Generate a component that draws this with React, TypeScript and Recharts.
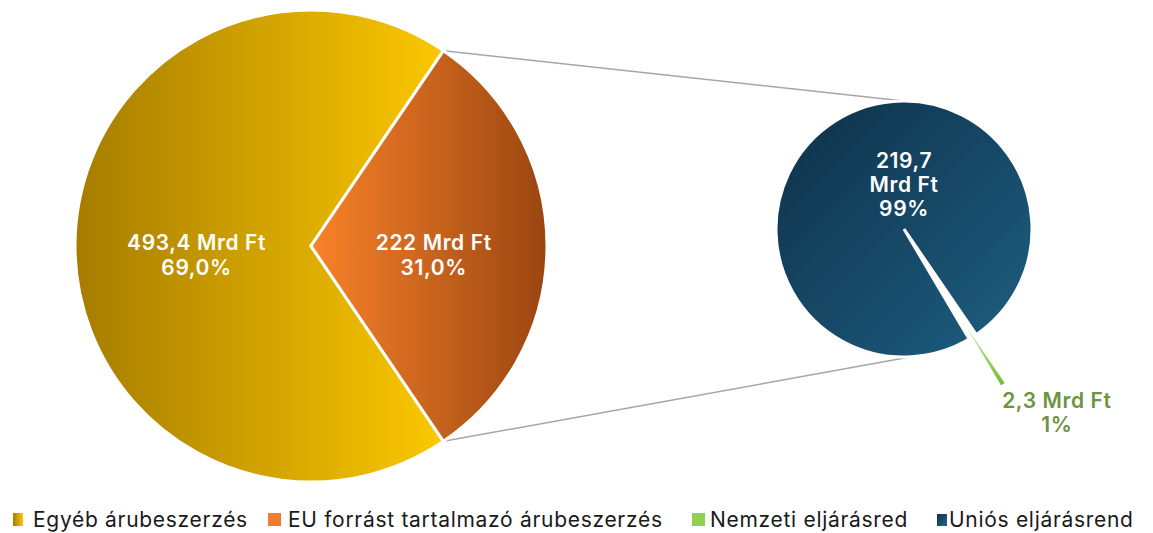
import React from 'react';
import { PieChart, Pie, Cell, Legend, Customized } from 'recharts';

document.body.style.margin = '0';

// fő kör: teljes árubeszerzés
const mainNames = ['Egyéb árubeszerzés', 'EU forrást tartalmazó árubeszerzés'];
const mainValues = [493.4, 222];
const mainAmounts = ['493,4 Mrd Ft', '222 Mrd Ft'];
const mainPercents = ['69,0%', '31,0%'];

// kis kör: az EU forrást tartalmazó rész bontása
const subNames = ['Uniós eljárásrend', 'Nemzeti eljárásred'];
const subValues = [219.7, 2.3];
const subAmounts = [['219,7', 'Mrd Ft'], ['2,3 Mrd Ft']];
const subPercents = ['99%', '1%'];

const legendNames = ['Egyéb árubeszerzés', 'EU forrást tartalmazó árubeszerzés', 'Nemzeti eljárásred', 'Uniós eljárásrend'];
const legendFills = ['url(#legYellow)', '#ED7D31', '#92D050', 'url(#legNavy)'];

const mainData = mainNames.map((name, i) => ({ name, value: mainValues[i] }));
const subData = subNames.map((name, i) => ({ name, value: subValues[i] }));

const W = 1153;
const H = 533;
const FONT = 'Inter, "Noto Sans", sans-serif';

// elrendezés
const MAIN = { cx: 311, cy: 246, r: 236 };
const SUB = { cx: 904, cy: 229, r: 128 };
const GREEN_ANGLE = -57.5; // a kiemelt szelet iránya
const EXPLODE = 116;
const EXPLODE_R = 68;

// jelmagyarázat elemek szélessége, ikon mérete, ikon–szöveg távolság
const legendItemWidth = [255, 424, 245, 200];
const legendIcon = [[10, 13], [13, 13], [13, 13], [10, 12]];
const legendGap = [10, 7, 5, 2];

const mainTotal = mainValues.reduce((a, b) => a + b, 0);
const mainHalf = (mainValues[1] / mainTotal) * 180;
const mainStart = mainHalf;

const subTotal = subValues.reduce((a, b) => a + b, 0);
const subHalf = (subValues[1] / subTotal) * 180;
const subStart = GREEN_ANGLE + subHalf;

const RAD = Math.PI / 180;
const explodedCx = SUB.cx + EXPLODE * Math.cos(-GREEN_ANGLE * RAD);
const explodedCy = SUB.cy + EXPLODE * Math.sin(-GREEN_ANGLE * RAD);

const mainLabelDist = [0.485, 0.52];
const labelStyle = { fontFamily: FONT, fontSize: 21, fontWeight: 600, letterSpacing: 0.6 };

const renderMainLabel = (props: any) => {
  const { cx, cy, midAngle, outerRadius, index } = props;
  const d = outerRadius * mainLabelDist[index];
  const x = cx + d * Math.cos(-midAngle * RAD);
  const y = cy + d * Math.sin(-midAngle * RAD);
  return (
    <text x={x} y={y} textAnchor="middle" fill="#fff" style={labelStyle}>
      <tspan x={x} dy={4}>{mainAmounts[index]}</tspan>
      <tspan x={x} dy={25}>{mainPercents[index]}</tspan>
    </text>
  );
};

const renderSubLabel = (props: any) => {
  const { cx, cy, index } = props;
  if (index !== 0) return null;
  const lines = [...subAmounts[0], subPercents[0]];
  return (
    <text x={cx} y={cy - 61} textAnchor="middle" fill="#fff" style={labelStyle}>
      {lines.map((l, i) => (
        <tspan key={i} x={cx} dy={i === 0 ? 0 : 24}>{l}</tspan>
      ))}
    </text>
  );
};

const renderGreenLabel = (props: any) => {
  const { cx, cy, midAngle, outerRadius, index } = props;
  if (index !== 1) return null;
  const tipX = cx + outerRadius * Math.cos(-midAngle * RAD);
  const tipY = cy + outerRadius * Math.sin(-midAngle * RAD);
  const x = tipX + 54;
  const y = tipY + 24;
  return (
    <text x={x} y={y} textAnchor="middle" fill="#6E9440" style={labelStyle}>
      <tspan x={x} dy={0}>{subAmounts[1][0]}</tspan>
      <tspan x={x} dy={24}>{subPercents[1]}</tspan>
    </text>
  );
};

const Connectors = () => {
  const ax = MAIN.cx + MAIN.r * Math.cos(mainHalf * RAD);
  const ayTop = MAIN.cy - MAIN.r * Math.sin(mainHalf * RAD);
  const ayBot = MAIN.cy + MAIN.r * Math.sin(mainHalf * RAD);
  return (
    <g>
      <line x1={ax} y1={ayTop} x2={SUB.cx} y2={SUB.cy - SUB.r} stroke="#A6A6A6" strokeWidth={1.5} />
      <line x1={ax} y1={ayBot} x2={SUB.cx + 6} y2={SUB.cy + SUB.r} stroke="#A6A6A6" strokeWidth={1.5} />
    </g>
  );
};

const LegendContent = () => (
  <div style={{ display: 'flex', alignItems: 'center', fontFamily: FONT, fontSize: 21, letterSpacing: 0.7, color: '#1a1a1a', whiteSpace: 'nowrap' }}>
    <svg width={0} height={0} style={{ position: 'absolute' }}>
      <defs>
        <linearGradient id="legYellow" x1="0" y1="0" x2="1" y2="0">
          <stop offset="0%" stopColor="#A67C00" />
          <stop offset="100%" stopColor="#FBC800" />
        </linearGradient>
        <linearGradient id="legNavy" x1="0" y1="0" x2="1" y2="1">
          <stop offset="0%" stopColor="#0E3049" />
          <stop offset="100%" stopColor="#23678C" />
        </linearGradient>
      </defs>
    </svg>
    {legendNames.map((n, i) => (
      <div key={n} style={{ display: 'flex', alignItems: 'center', width: legendItemWidth[i] }}>
        <svg width={legendIcon[i][0]} height={legendIcon[i][1]} style={{ marginRight: legendGap[i], flexShrink: 0 }}>
          <rect width={legendIcon[i][0]} height={legendIcon[i][1]} fill={legendFills[i]} />
        </svg>
        <span>{n}</span>
      </div>
    ))}
  </div>
);

export default function App() {
  return (
    <div style={{ width: W, height: H, background: '#fff' }}>
      <PieChart width={W} height={H} margin={{ top: 0, right: 0, bottom: 0, left: 0 }}>
        <defs>
          <linearGradient id="gYellow" x1="0" y1="0" x2="1" y2="0">
            <stop offset="0%" stopColor="#A67C00" />
            <stop offset="100%" stopColor="#FBC800" />
          </linearGradient>
          <linearGradient id="gOrange" x1="0" y1="0" x2="1" y2="0">
            <stop offset="0%" stopColor="#F98229" />
            <stop offset="100%" stopColor="#9A4611" />
          </linearGradient>
          <linearGradient id="gNavy" x1="0" y1="0" x2="1" y2="1">
            <stop offset="0%" stopColor="#0E3049" />
            <stop offset="100%" stopColor="#1E5F82" />
          </linearGradient>
          <linearGradient id="gGreen" x1="0" y1="0" x2="0" y2="1">
            <stop offset="0%" stopColor="#C8E8A8" />
            <stop offset="100%" stopColor="#6FC030" />
          </linearGradient>
        </defs>

        <Customized component={Connectors} />

        {/* főkör */}
        <Pie
          data={mainData}
          dataKey="value"
          cx={MAIN.cx}
          cy={MAIN.cy}
          outerRadius={MAIN.r}
          startAngle={mainStart}
          endAngle={mainStart + 360}
          stroke="#fff"
          strokeWidth={3}
          label={renderMainLabel}
          labelLine={false}
          isAnimationActive={false}
        >
          <Cell fill="url(#gYellow)" />
          <Cell fill="url(#gOrange)" />
        </Pie>

        {/* kiemelt zöld szelet */}
        <Pie
          data={subData}
          dataKey="value"
          cx={explodedCx}
          cy={explodedCy}
          outerRadius={EXPLODE_R}
          startAngle={subStart}
          endAngle={subStart + 360}
          stroke="none"
          label={renderGreenLabel}
          labelLine={false}
          isAnimationActive={false}
        >
          <Cell fill="none" />
          <Cell fill="url(#gGreen)" />
        </Pie>

        {/* kis kör */}
        <Pie
          data={subData}
          dataKey="value"
          cx={SUB.cx}
          cy={SUB.cy}
          outerRadius={SUB.r}
          startAngle={subStart}
          endAngle={subStart + 360}
          stroke="#fff"
          strokeWidth={3}
          label={renderSubLabel}
          labelLine={false}
          isAnimationActive={false}
        >
          <Cell fill="url(#gNavy)" />
          <Cell fill="none" stroke="none" />
        </Pie>

        <Legend
          verticalAlign="bottom"
          content={<LegendContent />}
          wrapperStyle={{ left: 13, bottom: 1, width: 'auto' }}
        />
      </PieChart>
    </div>
  );
}
